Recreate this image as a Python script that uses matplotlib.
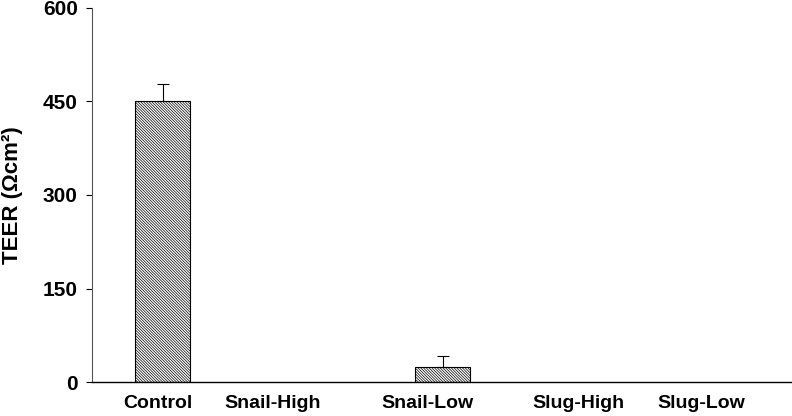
import matplotlib
matplotlib.use("Agg")
from matplotlib import pyplot as plt
import numpy as np

# dados
categorias = ["Control", "Snail-High", "Snail-Low", "Slug-High", "Slug-Low"]
teer       = [450, 0, 24, 0, 0]
erro       = [28, 0, 18, 0, 0]

plt.rcParams['font.family'] = ['Liberation Sans', 'DejaVu Sans']
plt.rcParams['hatch.linewidth'] = 0.5

fig = plt.figure(figsize=(7.92, 4.16), dpi=100)
ax = fig.add_axes([92/792, 34/416, 700/792, 374/416])

x = np.arange(len(categorias))
mostrar = [v > 0 for v in teer]
xb = x[mostrar]
vb = np.array(teer)[mostrar]
eb = np.array(erro)[mostrar]

ax.bar(xb, vb, width=0.393, color="white", edgecolor="black",
       hatch="\\" * 12, linewidth=0.8, zorder=2)
ax.errorbar(xb, vb, yerr=[np.zeros_like(eb), eb], fmt="none",
            ecolor="black", elinewidth=0.8, capsize=4, capthick=0.8, zorder=3)

# rotulos levemente deslocados como no original
desloc = [-0.036, -0.22, -0.114, -0.03, -0.157]
ax.set_xticks(x + np.array(desloc))
ax.set_xticklabels(categorias, fontsize=14, fontweight="bold")
ax.tick_params(axis="x", length=0, pad=9)

ax.set_xlim(-0.507, 4.493)
ax.set_ylim(0, 600)
ax.set_yticks([0, 150, 300, 450, 600])
ax.set_yticklabels(["0", "150", "300", "450", "600"], fontsize=15, fontweight="bold")
ax.tick_params(axis="y", direction="out", length=4.3, width=0.8, pad=6)

ax.set_ylabel("TEER (Ωcm²)", fontsize=16, fontweight="bold")
ax.yaxis.set_label_coords(-0.098, 0.5)

ax.spines["top"].set_visible(False)
ax.spines["right"].set_visible(False)
ax.spines["left"].set_color("#555555")
ax.spines["left"].set_linewidth(0.8)
ax.spines["bottom"].set_linewidth(1.0)

fig.savefig("out.png", dpi=100)
